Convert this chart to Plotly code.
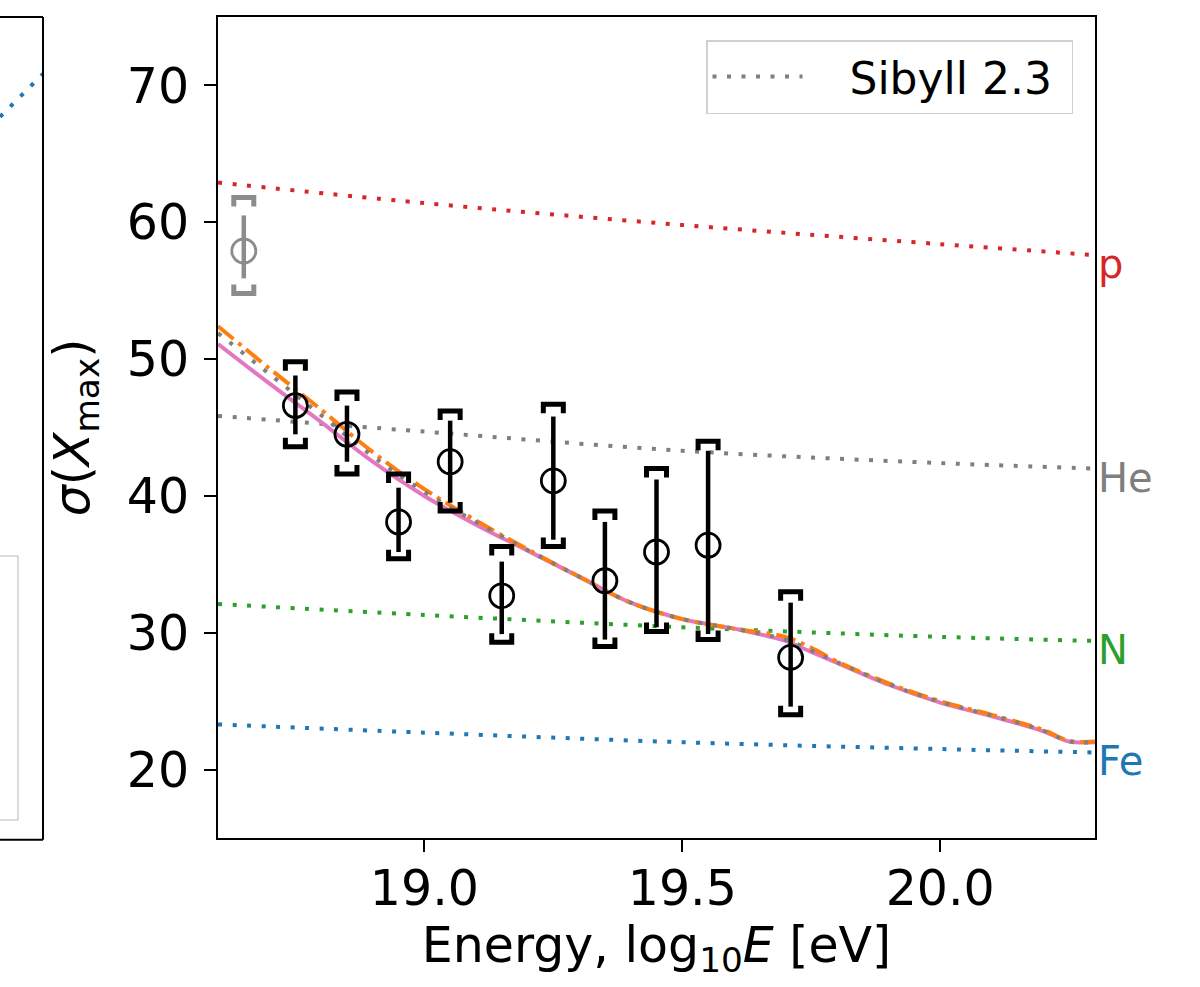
import plotly.graph_objects as go

# ---------------- data ----------------
energy = [18.75, 18.85, 18.95, 19.05, 19.15, 19.25, 19.35, 19.45, 19.55, 19.71]
sigma = [46.6, 44.5, 38.1, 42.5, 32.7, 41.1, 33.8, 35.9, 36.4, 28.2]
stat_up = [2.2, 2.1, 2.5, 3.0, 2.5, 4.7, 4.3, 5.3, 6.9, 4.0]
stat_dn = [2.1, 2.0, 2.2, 3.0, 2.8, 4.3, 4.3, 5.5, 6.5, 3.6]
sys_up = [3.2, 3.1, 3.5, 3.7, 3.6, 5.6, 5.1, 6.1, 7.6, 4.8]
sys_dn = [3.0, 2.9, 2.7, 3.6, 3.4, 4.8, 4.8, 5.8, 6.9, 4.2]

gray_energy = [18.65]
gray_sigma = [57.9]
gray_stat_up = [2.6]
gray_stat_dn = [2.0]
gray_sys_up = [3.9]
gray_sys_dn = [3.1]

# pure compositions (Sibyll 2.3)
comp_x = [18.6, 19.0, 19.5, 20.0, 20.3]
comp_p = [62.9, 61.4, 59.8, 58.4, 57.6]
comp_he = [45.85, 44.7, 43.3, 42.4, 42.0]
comp_n = [32.1, 31.3, 30.4, 29.7, 29.4]
comp_fe = [23.3, 22.7, 22.0, 21.5, 21.25]
comp_names = ["p", "He", "N", "Fe"]
comp_colors = ["#d62728", "#7f7f7f", "#2ca02c", "#1f77b4"]

# mixture fits
fit_x = [18.6, 18.7, 18.8, 18.9, 19.0, 19.1, 19.2, 19.3, 19.4, 19.5, 19.6, 19.7,
         19.75, 19.8, 19.9, 20.0, 20.1, 20.2, 20.25, 20.3]
fit_pink = [51.1, 48.2, 45.4, 42.5, 40.0, 37.9, 36.0, 34.1, 32.2, 31.0, 30.3, 29.4,
            28.6, 27.8, 26.2, 24.9, 23.9, 22.8, 22.05, 22.0]
fit_orange = [52.4, 49.3, 46.3, 43.2, 40.5, 38.2, 36.1, 34.1, 32.2, 31.0, 30.3, 29.7,
              28.9, 27.9, 26.3, 25.0, 24.0, 22.9, 22.1, 22.05]
fit_gray = [51.9, 48.9, 45.9, 42.9, 40.3, 38.1, 36.05, 34.1, 32.2, 31.0, 30.3, 29.5,
            28.7, 27.85, 26.25, 24.95, 23.95, 22.85, 22.05, 22.0]

# fragment of neighbouring panel
left_x = [20.22, 20.30]
left_fe = [819.6, 832.7]

x_ticks = [19.0, 19.5, 20.0]
x_ticktext = ["19.0", "19.5", "20.0"]
y_ticks = [20, 30, 40, 50, 60, 70]

# ---------------- layout constants ----------------
W, H = 1200, 987
ML, MR, MT, MB = 0, 105, 17, 149
PW = W - ML - MR
PH = H - MT - MB
X0 = 218
XR = [18.6, 20.3]
YR = [15, 75]
px_x = (XR[1] - XR[0]) / (1095 - X0)
px_y = (YR[1] - YR[0]) / PH
FONT = "DejaVu Sans"
FS = 49

fig = go.Figure()

# composition lines
for name, col, vals in zip(comp_names, comp_colors, [comp_p, comp_he, comp_n, comp_fe]):
    fig.add_trace(go.Scatter(x=comp_x, y=vals, mode="lines", showlegend=False,
                             line=dict(color=col, width=4, dash="4px,10.5px", shape="spline"),
                             hoverinfo="skip"))

# fits
fig.add_trace(go.Scatter(x=fit_x, y=fit_pink, mode="lines", showlegend=False,
                         line=dict(color="#e377c2", width=4, shape="spline")))
fig.add_trace(go.Scatter(x=fit_x, y=fit_orange, mode="lines", showlegend=False,
                         line=dict(color="#ff7f0e", width=4, dash="20px,6px,4px,6px", shape="spline")))
fig.add_trace(go.Scatter(x=fit_x, y=fit_gray, mode="lines",
                         name="\u00a0\u00a0\u00a0Sibyll 2.3\u00a0", showlegend=True,
                         line=dict(color="#7f7f7f", width=4, dash="4px,10.5px", shape="spline")))


def brackets(xs, ys, up, dn):
    bx, by = [], []
    dx = 10 * px_x
    dy = 9 * px_y
    for x, y, u, d in zip(xs, ys, up, dn):
        t = y + u
        b = y - d
        bx += [x - dx, x - dx, x + dx, x + dx, None]
        by += [t - dy, t, t, t - dy, None]
        bx += [x - dx, x - dx, x + dx, x + dx, None]
        by += [b + dy, b, b, b + dy, None]
    return bx, by


for xs, ys, su, sd, yu, yd, col in [
    (gray_energy, gray_sigma, gray_stat_up, gray_stat_dn, gray_sys_up, gray_sys_dn, "#8c8c8c"),
    (energy, sigma, stat_up, stat_dn, sys_up, sys_dn, "black"),
]:
    bx, by = brackets(xs, ys, yu, yd)
    fig.add_trace(go.Scatter(x=bx, y=by, mode="lines", showlegend=False,
                             line=dict(color=col, width=5), hoverinfo="skip"))
    fig.add_trace(go.Scatter(x=xs, y=ys, mode="markers", showlegend=False,
                             marker=dict(symbol="circle-open", size=24, color=col,
                                         line=dict(width=2.8, color=col)),
                             error_y=dict(type="data", array=su, arrayminus=sd, symmetric=False,
                                          width=0, thickness=4.5, color=col)))

# neighbour panel fragment
fig.add_trace(go.Scatter(x=left_x, y=left_fe, xaxis="x2", yaxis="y2", mode="lines",
                         showlegend=False,
                         line=dict(color="#1f77b4", width=4, dash="4px,10.5px")))

# composition labels
annotations = []
for name, col, vals in zip(comp_names, comp_colors, [comp_p, comp_he, comp_n, comp_fe]):
    annotations.append(dict(x=XR[1], y=vals[-1], xref="x", yref="y", text=name,
                            showarrow=False, xanchor="left", yanchor="middle", xshift=1,
                            yshift=-9,
                            font=dict(family=FONT, size=40, color=col)))

xd0 = (X0 - ML) / PW
left_edge = 43 / PW
shapes = [
    dict(type="line", xref="paper", yref="paper", x0=left_edge, x1=left_edge, y0=-0.002, y1=1,
         line=dict(color="black", width=2)),
    dict(type="line", xref="paper", yref="paper", x0=-0.01, x1=left_edge, y0=1, y1=1,
         line=dict(color="black", width=2)),
    dict(type="line", xref="paper", yref="paper", x0=-0.01, x1=left_edge, y0=-0.002, y1=-0.002,
         line=dict(color="black", width=2)),
    dict(type="rect", xref="paper", yref="paper", x0=-0.03, x1=18 / PW,
         y0=(838 - 820) / PH, y1=(838 - 556) / PH,
         line=dict(color="#d0d0d0", width=1.5), fillcolor="rgba(255,255,255,0.8)"),
]

axis_common = dict(showline=True, linecolor="black", linewidth=2, mirror=True,
                   ticks="outside", ticklen=12, tickwidth=2, tickcolor="black",
                   showgrid=False, zeroline=False,
                   tickfont=dict(family=FONT, size=FS, color="black"))

fig.update_layout(
    width=W, height=H,
    margin=dict(l=ML, r=MR, t=MT, b=MB),
    paper_bgcolor="white", plot_bgcolor="white",
    font=dict(family=FONT, size=FS, color="black"),
    xaxis=dict(domain=[xd0, 1], range=XR, tickvals=x_ticks, ticktext=x_ticktext,
               automargin=False, ticklabelstandoff=-6,
               title=dict(text="Energy, log<sub>10</sub><i>E</i> [eV]", standoff=10,
                          font=dict(family=FONT, size=FS, color="black")),
               **axis_common),
    yaxis=dict(range=YR, tickvals=y_ticks, automargin=False, ticklabelstandoff=5,
               title=dict(text="<i>σ</i>(<i>X</i><sub>max</sub>)", standoff=22,
                          font=dict(family=FONT, size=FS, color="black")),
               **axis_common),
    xaxis2=dict(domain=[0, left_edge], range=[20.22, 20.30], visible=False, anchor="y2"),
    yaxis2=dict(domain=[0, 1], range=[600, 850], visible=False, anchor="x2"),
    legend=dict(x=1073 / PW, xanchor="right", y=(838 - 40) / PH, yanchor="top",
                bgcolor="rgba(255,255,255,0.8)", bordercolor="#d0d0d0", borderwidth=1.5,
                itemwidth=90, font=dict(family=FONT, size=44, color="black")),
    annotations=annotations,
    shapes=shapes,
)

fig.write_html("out.html")
